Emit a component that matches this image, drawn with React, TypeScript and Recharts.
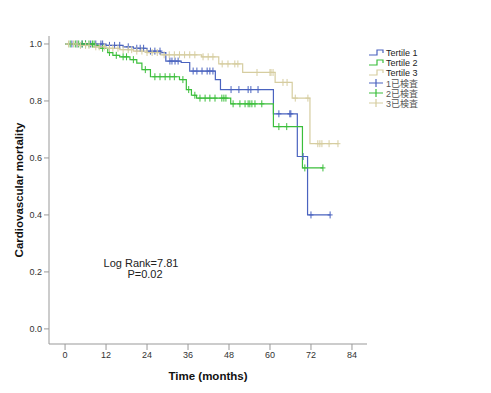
import React from "react";
import { ComposedChart, Line, Scatter, XAxis, YAxis } from "recharts";

// Kaplan-Meier steps: time (months) and survival after each drop
const t1Times = [0, 12, 17, 20, 24, 28, 29.5, 34, 36.5, 44, 45.5, 61, 68, 71, 77.6];
const t1Surv = [1, 0.995, 0.99, 0.985, 0.975, 0.97, 0.94, 0.935, 0.905, 0.875, 0.84, 0.755, 0.605, 0.4, 0.4];

const t2Times = [0, 9, 10, 12.5, 14, 16, 19, 21, 22.5, 25, 33.5, 35.5, 37, 38.5, 48.5, 61, 69.5, 75.5];
const t2Surv = [1, 0.995, 0.985, 0.97, 0.96, 0.955, 0.945, 0.933, 0.91, 0.885, 0.875, 0.84, 0.82, 0.81, 0.79, 0.71, 0.565, 0.565];

const t3Times = [0, 4, 8, 12, 16, 20, 24, 28, 40, 45, 52, 61.5, 66.5, 71.7, 80];
const t3Surv = [1, 0.995, 0.99, 0.985, 0.98, 0.975, 0.97, 0.962, 0.955, 0.93, 0.9, 0.865, 0.81, 0.65, 0.65];

// censored observations (months)
const t1Censored = [2, 3.5, 5, 6, 7.5, 9, 10.5, 11, 13, 14.5, 16, 18.5, 21, 22, 23, 25, 26.3, 27.8, 30.7, 31.3, 32.2, 33.1, 37.5, 38.6, 40.1, 41.6, 42.4, 43.3, 48.6, 50.9, 53.6, 54.4, 56.5, 62.6, 65.8, 66.1, 69.7, 72, 77.6];
const t2Censored = [1.5, 3, 4, 5, 6, 7, 8, 8.5, 11, 13, 15, 17, 18, 20, 23.5, 26.3, 27.8, 29.3, 30.7, 32, 34.5, 36.2, 38, 39.5, 41, 42.4, 43.9, 45.9, 46.5, 47.1, 49.2, 51.2, 52.7, 53.6, 54.1, 54.7, 55.6, 57.6, 62.6, 64.9, 70.2, 75.5];
const t3Censored = [1, 2.5, 3.5, 4.5, 6, 7, 9, 10, 11.5, 13, 14, 15.5, 17, 18.5, 19.5, 21, 22.5, 24, 25.5, 27, 29, 30.5, 32, 33.5, 35, 36.5, 38, 40.4, 41.9, 43.3, 46, 47.7, 49.7, 50.6, 56.2, 60, 60.3, 60.9, 63.8, 65, 67.4, 71.1, 74, 74.6, 75.2, 77.3, 79.9];

const xTicks = [0, 12, 24, 36, 48, 60, 72, 84];
const yTicks = [0, 0.2, 0.4, 0.6, 0.8, 1.0];

const BLUE = "#4A63BF";
const GREEN = "#3BBE3B";
const TAN = "#D6CDA0";
const FONT = "'Liberation Sans', Arial, sans-serif";

const toSteps = (times: number[], surv: number[]) =>
  times.map((t, i) => ({ t, s: surv[i] }));

// place each censor mark on its curve
const toMarks = (cens: number[], times: number[], surv: number[]) =>
  cens.map((t) => {
    let s = surv[0];
    for (let i = 0; i < times.length; i++) if (times[i] <= t) s = surv[i];
    return { t, s };
  });

const series = [
  { name: "Tertile 1", color: BLUE, steps: toSteps(t1Times, t1Surv), marks: toMarks(t1Censored, t1Times, t1Surv), cname: "1已検査" },
  { name: "Tertile 2", color: GREEN, steps: toSteps(t2Times, t2Surv), marks: toMarks(t2Censored, t2Times, t2Surv), cname: "2已検査" },
  { name: "Tertile 3", color: TAN, steps: toSteps(t3Times, t3Surv), marks: toMarks(t3Censored, t3Times, t3Surv), cname: "3已検査" },
];

const Cross = (color: string) => (props: any) => {
  const { cx, cy } = props;
  return (
    <path
      d={`M${cx - 2.5},${cy}H${cx + 2.5}M${cx},${cy - 3.5}V${cy + 3.5}`}
      stroke={color}
      strokeWidth={1}
      fill="none"
    />
  );
};

function KMLegend() {
  const rows = [
    ...series.map((s) => ({ label: s.name, color: s.color, kind: "step" })),
    ...series.map((s) => ({ label: s.cname, color: s.color, kind: "cross" })),
  ];
  return (
    <div style={{ position: "absolute", left: 368, top: 48, fontFamily: FONT, fontSize: 9, color: "#222" }}>
      {rows.map((r) => (
        <div key={r.label} style={{ display: "flex", alignItems: "center", height: 10 }}>
          <svg width={17} height={10} style={{ marginRight: 1 }}>
            {r.kind === "step" ? (
              <path d="M1,7H9V2H15V5" stroke={r.color} strokeWidth={1.2} fill="none" />
            ) : (
              <path d="M1,5H15M8,1V9" stroke={r.color} strokeWidth={1.2} fill="none" />
            )}
          </svg>
          <span style={{ fontFamily: r.kind === "cross" ? `${FONT}, 'Noto Sans CJK JP'` : FONT, color: r.kind === "cross" ? "#555" : "#222" }}>
            {r.label}
          </span>
        </div>
      ))}
    </div>
  );
}

export default function App() {
  return (
    <div style={{ position: "absolute", left: 0, top: 0, width: 491, height: 393, background: "#fff" }}>
      <ComposedChart
        width={491}
        height={393}
        margin={{ top: 36, right: 124, bottom: 9, left: 0 }}
      >
        <XAxis
          type="number"
          dataKey="t"
          domain={[-4.7, 88.4]}
          ticks={xTicks}
          allowDataOverflow
          stroke="#999"
          tickSize={6}
          height={40}
          tick={{ fontSize: 9, fill: "#333", fontFamily: FONT }}
          label={{
            value: "Time (months)",
            position: "insideBottom",
            offset: 4,
            style: { fontSize: 11.5, fontWeight: "bold", fill: "#111", fontFamily: FONT },
          }}
        />
        <YAxis
          type="number"
          domain={[-0.053, 1.028]}
          ticks={yTicks}
          allowDataOverflow
          width={49}
          stroke="#999"
          tickSize={5}
          tickFormatter={(v: number) => v.toFixed(1)}
          tick={{ fontSize: 9, fill: "#333", fontFamily: FONT }}
          label={{
            value: "Cardiovascular mortality",
            angle: -90,
            position: "center",
            dx: -6,
            style: { fontSize: 11.5, fontWeight: "bold", fill: "#111", fontFamily: FONT },
          }}
        />
        {series.map((s) => (
          <Line
            key={s.name}
            data={s.steps}
            dataKey="s"
            type="stepAfter"
            stroke={s.color}
            strokeWidth={1.2}
            dot={false}
            isAnimationActive={false}
            legendType="none"
          />
        ))}
        {series.map((s) => (
          <Scatter
            key={s.cname}
            data={s.marks}
            dataKey="s"
            shape={Cross(s.color)}
            isAnimationActive={false}
            legendType="none"
          />
        ))}
      </ComposedChart>
      <KMLegend />
      <div
        style={{
          position: "absolute",
          left: 93,
          top: 258,
          width: 96,
          textAlign: "center",
          fontFamily: FONT,
          fontSize: 11,
          lineHeight: "11px",
          color: "#222",
        }}
      >
        <div>Log Rank=7.81</div>
        <div style={{ paddingLeft: 8 }}>P=0.02</div>
      </div>
    </div>
  );
}
